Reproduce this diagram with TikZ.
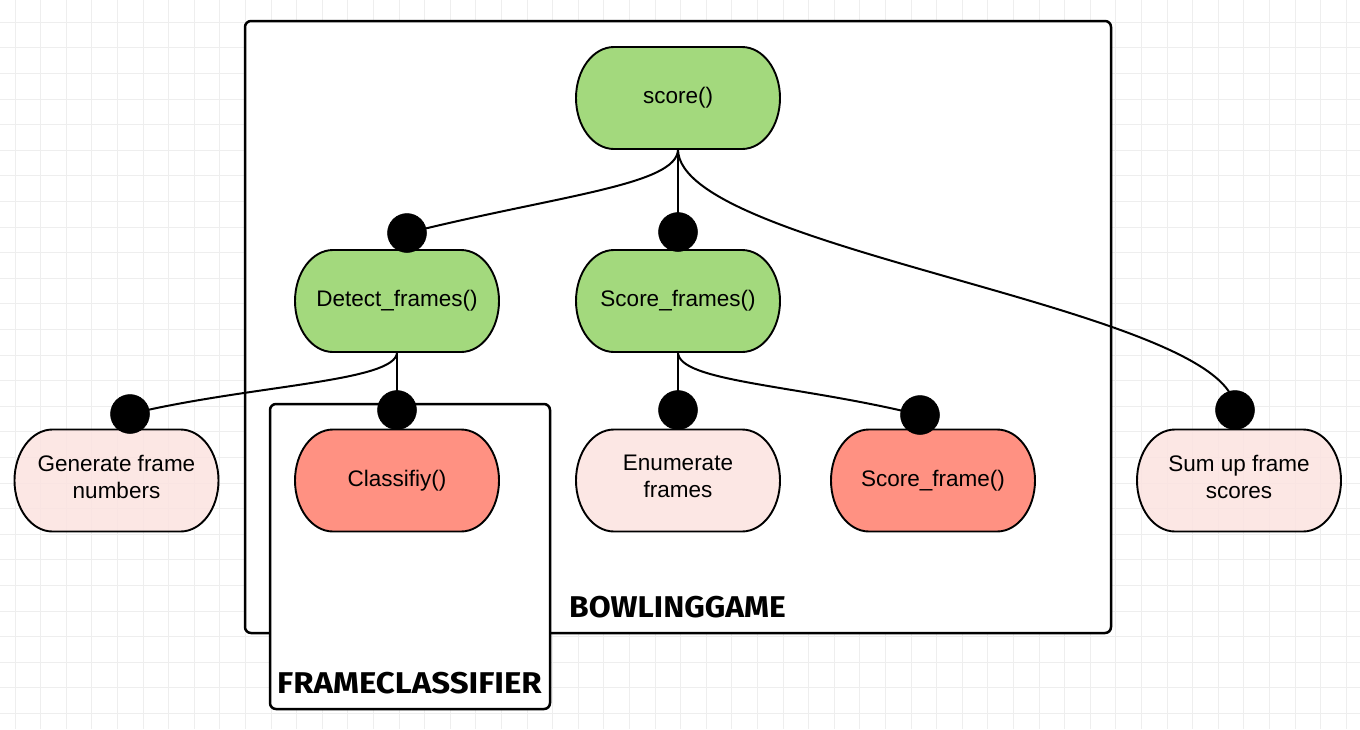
\documentclass[tikz,border=0pt]{standalone}
\usepackage{fontspec}
\setmainfont{Liberation Sans}
\newfontfamily\handfont{Fira Sans}
\pgfdeclarelayer{bg}
\pgfdeclarelayer{edges}
\pgfsetlayers{bg,edges,main}
\definecolor{gridc}{HTML}{EEEEEE}
\definecolor{greenc}{HTML}{A3D97D}
\definecolor{salmonc}{HTML}{FF9182}
\definecolor{pinkc}{HTML}{FCE3E0}
\tikzset{
  gridline/.style={draw=gridc, line width=1pt},
  proc/.style={inner sep=0pt, minimum width=204pt, minimum height=102pt,
    align=center, font=\fontsize{22.5}{27}\selectfont},
  outline/.style={draw=black, line width=1.9pt},
  greenfill/.style={outline, fill=greenc},
  redfill/.style={outline, fill=salmonc},
  pinkfill/.style={outline, fill=pinkc, fill opacity=0.85},
  twoline/.style={text depth=8pt},
  dotnode/.style={circle, fill=black, draw=black, line width=0.5pt,
    minimum size=39pt, inner sep=0pt},
  conn/.style={draw=black, line width=2pt},
  container/.style={draw=black, fill=white, line width=2.5pt, rounded corners=6pt, inner sep=0pt},
  hlabel/.style={font=\handfont\bfseries\fontsize{30}{32}\selectfont, inner sep=0pt, anchor=base},
}
% #1 name, #2 fill style, #3 x, #4 y, #5 extra node opts, #6 text
\newcommand\pillnode[6]{%
  \draw[#2] ({#3-102+38},{#4-51}) -- ({#3+102-38},{#4-51})
     arc[start angle=-90, end angle=90, x radius=38, y radius=51]
     -- ({#3-102+38},{#4+51})
     arc[start angle=90, end angle=270, x radius=38, y radius=51] -- cycle;
  \node[proc,#5] (#1) at (#3,#4) {#6};
}
\begin{document}
\begin{tikzpicture}[x=1pt,y=-1pt]
\useasboundingbox (0,0) rectangle (1360,729);
\begin{pgfonlayer}{bg}
  \fill[white] (0,0) rectangle (1360,729);
  \foreach \i in {0,...,52} {\draw[gridline] ({15+25.6*\i},0) -- ({15+25.6*\i},729);}
  \foreach \j in {0,...,27} {\draw[gridline] (0,{22.3+25.6*\j}) -- (1360,{22.3+25.6*\j});}
  \node[container, minimum width=866pt, minimum height=612pt] (bowl) at (678,327) {};
  \node[hlabel, xscale=1.06] (bowllabel) at (677.5,617) {BOWLINGGAME};
  \node[container, minimum width=280pt, minimum height=305pt] (fc) at (410,556.5) {};
  \node[hlabel, xscale=1.1] (fclabel) at (409.5,693) {FRAMECLASSIFIER};
\end{pgfonlayer}

\pillnode{score}{greenfill}{678}{98}{}{score()}
\pillnode{detect}{greenfill}{397}{301}{}{Detect\_frames()}
\pillnode{scoreframes}{greenfill}{678}{301}{}{Score\_frames()}
\pillnode{gen}{pinkfill}{116.5}{480.5}{twoline}{Generate frame\\numbers}
\pillnode{classify}{redfill}{397}{480.5}{}{Classifiy()}
\pillnode{enum}{pinkfill}{678}{480.5}{twoline}{Enumerate\\frames}
\pillnode{scoreframe}{redfill}{933}{480.5}{}{Score\_frame()}
\pillnode{sumup}{pinkfill}{1239}{480.5}{twoline}{Sum up frame\\scores}

\node[dotnode] (d1) at (407,233) {};
\node[dotnode] (d2) at (678,232) {};
\node[dotnode] (d3) at (1235,410) {};
\node[dotnode] (d4) at (130,414) {};
\node[dotnode] (d5) at (397,410) {};
\node[dotnode] (d6) at (678,410) {};
\node[dotnode] (d7) at (920,415) {};

\begin{pgfonlayer}{edges}
  \draw[conn] (score.south) .. controls (678,185) and (560,195) .. (d1.center);
  \draw[conn] (score.south) -- (d2.center);
  \draw[conn] (score.south) .. controls (678,251) and (1235,308) .. (d3.center);
  \draw[conn] (detect.south) .. controls (397,382) and (250,385) .. (d4.center);
  \draw[conn] (detect.south) -- (d5.center);
  \draw[conn] (scoreframes.south) -- (d6.center);
  \draw[conn] (scoreframes.south) .. controls (678,382) and (800,385) .. (d7.center);
\end{pgfonlayer}
\end{tikzpicture}
\end{document}
